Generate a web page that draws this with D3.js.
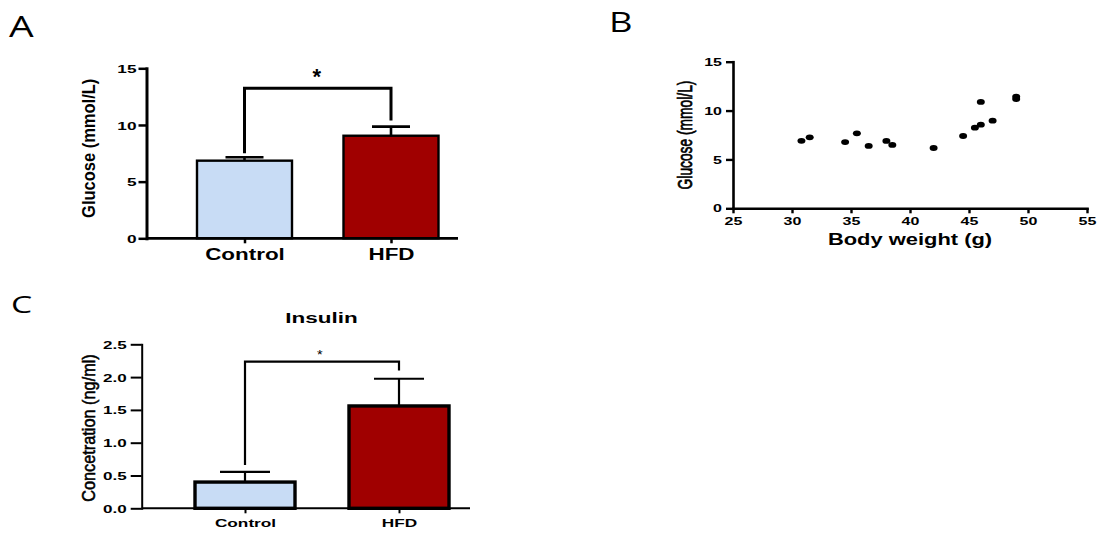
<!DOCTYPE html>
<html><head><meta charset="utf-8">
<script src="https://cdn.jsdelivr.net/npm/d3@7"></script>
<style>html,body{margin:0;padding:0;background:#fff;} svg{display:block;}</style>
</head><body>
<svg id="chart" width="1099" height="533"></svg>
<script>
// ---------- data ----------
const groupLabels = ["Control", "HFD"];
const barColors = ["#c8dcf5", "#a00000"];

// Panel A: glucose by group
const glucoseMean = [6.85, 9.05];
const glucoseErr = [0.30, 0.80];
const glucoseBracketTop = 13.25;
const glucoseBracketLegs = [7.5, 10.4];
const glucoseTicks = [0, 5, 10, 15];

// Panel B: glucose vs body weight
const bodyWeight = [30.8, 31.5, 34.5, 35.5, 36.5, 38.0, 38.5, 42.0, 44.5, 45.5, 46.0, 46.0, 47.0, 49.0, 49.0];
const glucoseB   = [6.90, 7.26, 6.78, 7.67, 6.38, 6.89, 6.48, 6.17, 7.40, 8.25, 8.56, 10.88, 8.97, 11.42, 11.18];
const weightTicks = [25, 30, 35, 40, 45, 50, 55];
const glucoseBTicks = [0, 5, 10, 15];

// Panel C: insulin by group
const insulinMean = [0.40, 1.56];
const insulinErr = [0.155, 0.415];
const insulinBracketTop = 2.235;
const insulinBracketLegs = [0.66, 2.10];
const insulinTicks = [0, 0.5, 1.0, 1.5, 2.0, 2.5];

// ---------- drawing ----------
const FONT = "'Liberation Sans', Arial, Helvetica, sans-serif";
const LETTER_FONT = "'Open Sans', 'DejaVu Sans', sans-serif";
const svg = d3.select("#chart");

function sText(parent, x, y, str, o) {
  return parent.append("text")
    .attr("transform", `translate(${x},${y}) scale(${o.sx || 1},1)`)
    .attr("text-anchor", o.anchor || "middle")
    .attr("font-family", o.font || FONT)
    .attr("font-size", o.size)
    .attr("font-weight", o.weight || "bold")
    .attr("stroke", o.stroke ? "#000" : null)
    .attr("stroke-width", o.stroke || null)
    .attr("fill", "#000")
    .text(str);
}
function vText(parent, x, y, str, o) {
  return parent.append("text")
    .attr("transform", `translate(${x},${y}) rotate(-90) scale(1,${o.sy || 1})`)
    .attr("text-anchor", "middle")
    .attr("font-family", o.font || FONT)
    .attr("font-size", o.size)
    .attr("font-weight", o.weight || "bold")
    .attr("stroke", o.stroke ? "#000" : null)
    .attr("stroke-width", o.stroke || null)
    .attr("fill", "#000")
    .text(str);
}

function barPanel(c) {
  const g = svg.append("g");
  const y = d3.scaleLinear().domain([0, c.yMax]).range([c.y0, c.y1]);
  const x = d3.scalePoint().domain(groupLabels).range(c.centers);

  // bracket
  const xl = x(groupLabels[0]), xr = x(groupLabels[1]);
  g.append("path")
    .attr("d", `M${xl},${y(c.legs[0])}V${y(c.top)}H${xr}V${y(c.legs[1])}`)
    .attr("fill", "none").attr("stroke", "#000").attr("stroke-width", c.bracketW);

  // error bars
  c.mean.forEach((m, i) => {
    const cx = x(groupLabels[i]);
    g.append("line").attr("x1", cx).attr("x2", cx).attr("y1", y(m)).attr("y2", y(m + c.err[i]))
      .attr("stroke", "#000").attr("stroke-width", c.errW);
    g.append("line").attr("x1", cx - c.capHalf).attr("x2", cx + c.capHalf)
      .attr("y1", y(m + c.err[i])).attr("y2", y(m + c.err[i]))
      .attr("stroke", "#000").attr("stroke-width", c.errW);
  });

  // bars
  g.selectAll("rect.bar").data(c.mean).join("rect").attr("class", "bar")
    .attr("x", (d, i) => x(groupLabels[i]) - c.barW / 2)
    .attr("width", c.barW)
    .attr("y", d => y(d))
    .attr("height", d => y(0) - y(d))
    .attr("fill", (d, i) => barColors[i])
    .attr("stroke", "#000").attr("stroke-width", c.barStroke);

  // y axis
  const ya = g.append("g").attr("transform", `translate(${c.left},0)`)
    .call(d3.axisLeft(y).tickValues(c.ticks).tickFormat(c.fmt).tickSize(c.yTick).tickSizeOuter(0));
  ya.select(".domain").attr("stroke-width", c.axisW).attr("stroke-linecap", "square");
  ya.selectAll(".tick line").attr("stroke-width", c.tickW);
  ya.selectAll(".tick text")
    .attr("font-family", FONT).attr("font-size", c.tickSize).attr("font-weight", "bold").attr("fill", "#000")
    .attr("x", -c.tickGap / c.tickSx).attr("dy", "0.36em")
    .attr("transform", `scale(${c.tickSx},1)`);

  // x axis line
  g.append("line").attr("x1", c.left).attr("x2", c.right).attr("y1", y(0)).attr("y2", y(0))
    .attr("stroke", "#000").attr("stroke-width", c.xAxisW);
  const xa = g.append("g").attr("transform", `translate(0,${y(0)})`)
    .call(d3.axisBottom(x).tickSize(c.xTick).tickSizeOuter(0));
  xa.select(".domain").remove();
  xa.selectAll(".tick line").attr("stroke-width", c.tickW);
  xa.selectAll(".tick text")
    .attr("font-family", FONT).attr("font-size", c.catSize).attr("font-weight", c.catWeight || "bold")
    .attr("fill", "#000").attr("y", c.catY).attr("dy", 0)
    .attr("transform", `scale(${c.catSx},1)`);
  return g;
}

// Panel A
const gA = barPanel({
  yMax: 15, y0: 238.3, y1: 68.3, left: 146.5, right: 458, centers: [244.5, 391],
  mean: glucoseMean, err: glucoseErr, top: glucoseBracketTop, legs: glucoseBracketLegs,
  ticks: glucoseTicks, fmt: d3.format("d"),
  barW: 95, barStroke: 2.4, axisW: 3, xAxisW: 2.8, tickW: 2.5, errW: 2.6, capHalf: 19,
  bracketW: 3, yTick: 8, xTick: 5, tickSize: 11.5, tickSx: 1.5, tickGap: 10,
  catSize: 16, catSx: 1.4, catY: 21.7
});
sText(gA, 316.7, 84, "*", { size: 22, sx: 1 });
vText(gA, 95, 148.3, "Glucose (mmol/L)", { size: 16.5, sy: 1.1 });
sText(svg, 9, 37, "A", { size: 30, sx: 1.3, anchor: "start", font: LETTER_FONT, weight: "normal" });

// Panel B
(function () {
  const g = svg.append("g");
  const x = d3.scaleLinear().domain([25, 55]).range([733, 1087]);
  const y = d3.scaleLinear().domain([0, 15]).range([208.3, 61.7]);
  const ya = g.append("g").attr("transform", `translate(${x(25)},0)`)
    .call(d3.axisLeft(y).tickValues(glucoseBTicks).tickSize(7).tickSizeOuter(0));
  const xa = g.append("g").attr("transform", `translate(0,${y(0)})`)
    .call(d3.axisBottom(x).tickValues(weightTicks).tickSize(5).tickSizeOuter(0));
  [ya, xa].forEach(a => {
    a.select(".domain").attr("stroke-width", 2.6).attr("stroke-linecap", "square");
    a.selectAll(".tick line").attr("stroke-width", 2.4);
    a.selectAll(".tick text").attr("font-family", FONT).attr("font-size", 10)
      .attr("font-weight", "bold").attr("fill", "#000").attr("transform", "scale(1.6,1)");
  });
  ya.selectAll(".tick text").attr("x", -11 / 1.6).attr("dy", "0.36em");
  xa.selectAll(".tick text").attr("y", 16.7).attr("dy", 0);

  g.selectAll("ellipse").data(bodyWeight).join("ellipse")
    .attr("cx", d => x(d)).attr("cy", (d, i) => y(glucoseB[i]))
    .attr("rx", 4).attr("ry", 2.9).attr("fill", "#000");

  sText(g, 910, 245, "Body weight (g)", { size: 16, sx: 1.37 });
  vText(g, 692, 135, "Glucose (mmol/L)", { size: 13.8, sy: 1.5, weight: "normal", stroke: 0.5 });
  sText(svg, 609, 32, "B", { size: 28, sx: 1.3, anchor: "start", font: LETTER_FONT, weight: "normal" });
})();

// Panel C
const gC = barPanel({
  yMax: 2.5, y0: 508.3, y1: 344.3, left: 141.7, right: 470, centers: [245, 399],
  mean: insulinMean, err: insulinErr, top: insulinBracketTop, legs: insulinBracketLegs,
  ticks: insulinTicks, fmt: d3.format(".1f"),
  barW: 100, barStroke: 3.4, axisW: 2, xAxisW: 2, tickW: 2, errW: 2.2, capHalf: 25,
  bracketW: 2.2, yTick: 11, xTick: 5, tickSize: 11, tickSx: 1.55, tickGap: 15,
  catSize: 11.5, catSx: 1.5, catY: 18.7
});
sText(gC, 319.7, 359, "*", { size: 12, sx: 1.2, weight: "normal" });
sText(gC, 321.5, 322.7, "Insulin", { size: 15.5, sx: 1.45 });
vText(gC, 95, 428, "Concetration (ng/ml)", { size: 16.3, sy: 1.1, weight: "normal", stroke: 0.5 });
sText(svg, 11, 313, "C", { size: 24, sx: 1.4, anchor: "start", font: LETTER_FONT, weight: "normal" });
</script>
</body></html>
